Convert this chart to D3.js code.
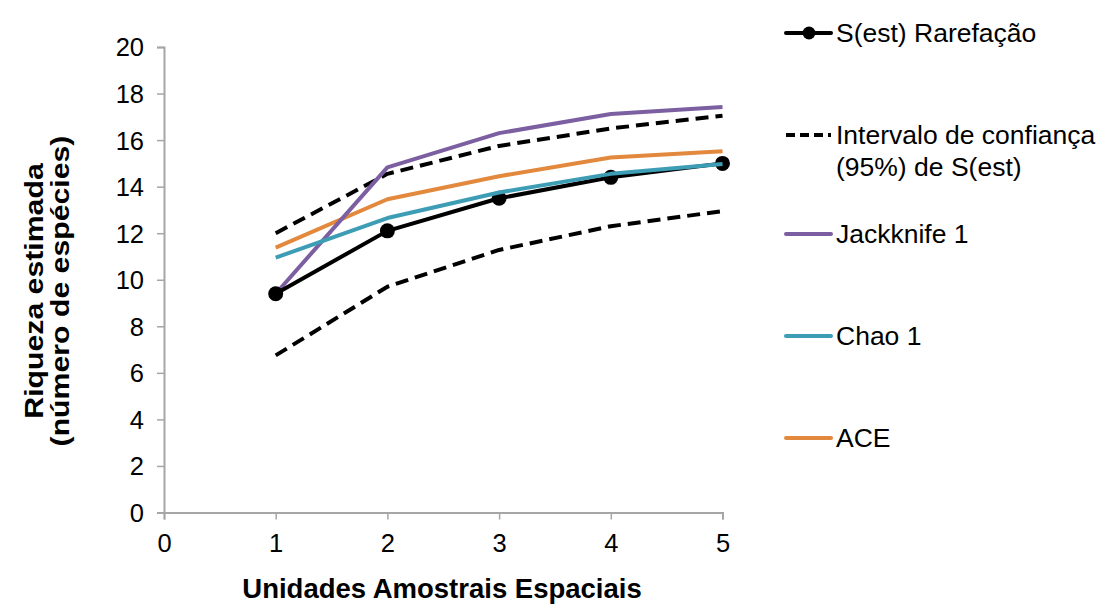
<!DOCTYPE html>
<html>
<head>
<meta charset="utf-8">
<script src="https://cdn.jsdelivr.net/npm/d3@7"></script>
<style>
  html, body { margin: 0; padding: 0; background: #fff; }
  svg { display: block; font-family: "Liberation Sans", Arial, sans-serif; }
</style>
</head>
<body>
<svg id="chart" width="1109" height="604"></svg>
<script>
// Sampling units (x) and species richness estimators (y)
const units = [1, 2, 3, 4, 5];
const sEst = [9.4, 12.1, 13.5, 14.4, 15.0];
const ciUpper = [12.0, 14.55, 15.75, 16.5, 17.05];
const ciLower = [6.75, 9.7, 11.28, 12.3, 12.95];
const jackknife1 = [9.4, 14.83, 16.3, 17.12, 17.42];
const chao1 = [10.95, 12.65, 13.75, 14.55, 14.97];
const ace = [11.38, 13.46, 14.45, 15.25, 15.52];

const xTicks = [0, 1, 2, 3, 4, 5];
const yTicks = [0, 2, 4, 6, 8, 10, 12, 14, 16, 18, 20];

const legendLabels = [
  ["S(est) Rarefação"],
  ["Intervalo de confiança", "(95%) de S(est)"],
  ["Jackknife 1"],
  ["Chao 1"],
  ["ACE"]
];

const svg = d3.select("#chart");
const plot = { left: 164, right: 722.5, top: 47, bottom: 512.5 };

const x = d3.scaleLinear().domain([0, 5]).range([plot.left, plot.right]);
const y = d3.scaleLinear().domain([0, 20]).range([plot.bottom, plot.top]);

const axisColor = "#a6a6a6";

// Axes
const gx = svg.append("g")
  .attr("transform", `translate(0,${plot.bottom})`)
  .call(d3.axisBottom(x).tickValues(xTicks).tickFormat(d3.format("d")).tickSize(7).tickPadding(14));
const gy = svg.append("g")
  .attr("transform", `translate(${plot.left},0)`)
  .call(d3.axisLeft(y).tickValues(yTicks).tickFormat(d3.format("d")).tickSize(7).tickPadding(13));

[gx, gy].forEach(g => {
  g.select(".domain").attr("stroke", axisColor).attr("stroke-width", 2);
  g.selectAll(".tick line").attr("stroke", axisColor).attr("stroke-width", 1.5);
  g.selectAll(".tick text")
    .attr("fill", "#000")
    .style("font-size", "25.5px")
    .style("font-family", "'Liberation Sans', Arial, sans-serif");
});
gy.selectAll(".tick text").attr("dy", "0.35em");

// Series
const series = [
  { values: ciLower, color: "#000", dash: "13,7" },
  { values: ciUpper, color: "#000", dash: "13,7" },
  { values: ace, color: "#e2893e" },
  { values: jackknife1, color: "#7b5fa0" },
  { values: sEst, color: "#000", markers: true },
  { values: chao1, color: "#3d9db5" }
];

const line = d3.line()
  .x((d, i) => x(units[i]))
  .y(d => y(d));

series.forEach(s => {
  svg.append("path")
    .datum(s.values)
    .attr("d", line)
    .attr("fill", "none")
    .attr("stroke", s.color)
    .attr("stroke-width", 4)
    .attr("stroke-linejoin", "round")
    .attr("stroke-dasharray", s.dash || null);
  if (s.markers) {
    svg.append("g").selectAll("circle")
      .data(s.values)
      .join("circle")
      .attr("cx", (d, i) => x(units[i]))
      .attr("cy", d => y(d))
      .attr("r", 7.5)
      .attr("fill", s.color);
  }
});

// Axis titles
svg.append("text")
  .attr("x", 442)
  .attr("y", 598)
  .attr("text-anchor", "middle")
  .style("font-size", "27.5px")
  .style("font-weight", "bold")
  .text("Unidades Amostrais Espaciais");

const yTitle = svg.append("text")
  .attr("transform", "translate(43,291) rotate(-90) scale(1.21,1)")
  .attr("text-anchor", "middle")
  .style("font-size", "25px")
  .style("font-weight", "bold");
yTitle.append("tspan").attr("x", 0).attr("y", 0).text("Riqueza estimada");
yTitle.append("tspan").attr("x", 0).attr("y", 26).text("(número de espécies)");

// Legend
const legendStyles = [
  { color: "#000", marker: true },
  { color: "#000", dash: "9,5" },
  { color: "#7b5fa0" },
  { color: "#3d9db5" },
  { color: "#e2893e" }
];
const legendY = [33, 135, 234, 336, 438];
const legend = svg.append("g");
legendLabels.forEach((lines, i) => {
  const st = legendStyles[i];
  const g = legend.append("g").attr("transform", `translate(0,${legendY[i]})`);
  g.append("line")
    .attr("x1", 786).attr("x2", 831)
    .attr("y1", 0).attr("y2", 0)
    .attr("stroke", st.color)
    .attr("stroke-width", 4)
    .attr("stroke-linecap", st.dash ? "butt" : "round")
    .attr("stroke-dasharray", st.dash || null);
  if (st.marker) {
    g.append("circle").attr("cx", 809).attr("cy", 0).attr("r", 6.5).attr("fill", st.color);
  }
  const t = g.append("text")
    .attr("x", 836)
    .attr("y", 9)
    .style("font-size", "26.5px")
    .attr("fill", "#000");
  lines.forEach((l, j) => {
    t.append("tspan").attr("x", 836).attr("dy", j === 0 ? 0 : 32).text(l);
  });
});
</script>
</body>
</html>
